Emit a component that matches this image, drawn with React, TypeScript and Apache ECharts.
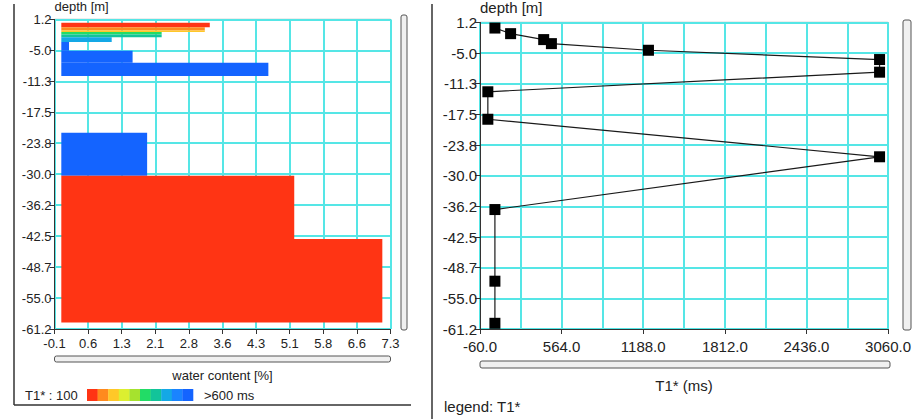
import React, { useEffect, useRef } from "react";
import * as echarts from "echarts";

// ---- axes ----
const Y_MIN = -61.2;
const Y_MAX = 1.2;
const Y_STEP = 6.24;

const WC_MIN = -0.1;
const WC_MAX = 7.3;
const WC_STEP = 0.74;
const WC_TICK_LABELS = ["-0.1", "0.6", "1.3", "2.1", "2.8", "3.6", "4.3", "5.1", "5.8", "6.6", "7.3"];

const T1_MIN = -60;
const T1_MAX = 3060;
const T1_STEP = 624;

// ---- colour classes of T1* (100 ms ... >600 ms) ----
const T1_CLASS_COLORS = [
  "#ff3414", "#ff8a1e", "#ffc828", "#dcef30", "#a6e22e",
  "#22dc66", "#12c49a", "#14a8e6", "#1a84ff", "#1464ff",
];

// ---- left panel: water content layers ----
const LAYER_BASE = 0.05;
const LAYER_TOP = [0.54, -0.39, -1.05, -1.33, -1.85, -2.38, -3.38, -5.11, -7.56, -21.64, -30.33, -43.07];
const LAYER_BOTTOM = [-0.39, -1.05, -1.33, -1.85, -2.38, -3.38, -5.11, -7.56, -10.21, -30.33, -43.07, -59.88];
const LAYER_WATER = [3.32, 3.21, 3.21, 2.26, 2.26, 1.16, 0.22, 1.62, 4.61, 1.94, 5.18, 7.12];
const LAYER_CLASS = [0, 1, 2, 5, 6, 7, 9, 9, 9, 9, 0, 0];

// ---- right panel: T1* vs depth ----
const T1_DEPTH = [0.05, -1.09, -2.3, -3.12, -4.47, -6.36, -8.93, -12.92, -18.51, -26.15, -36.89, -51.47, -60.04];
const T1_VALUE = [54, 174, 427, 486, 1228, 2995, 2995, 0, 0, 2995, 54, 54, 54];

const FONT = "Liberation Sans, Arial, sans-serif";
const CYAN = "#55e6e6";
const TXT = "#222";

function buildOption(): any {
  const yAxisCommon = (gridIndex: number, fs: number, gap: number) => ({
    type: "value",
    gridIndex,
    min: 0,
    max: Y_MAX - Y_MIN,
    interval: Y_STEP,
    name: "depth [m]",
    nameLocation: "end",
    nameGap: gap,
    nameTextStyle: { align: "left", verticalAlign: "middle", fontSize: fs, color: TXT, fontFamily: FONT },
    axisLine: { show: true, lineStyle: { color: "#333", width: 1 } },
    axisTick: { show: true, length: 5, lineStyle: { color: "#333" } },
    axisLabel: {
      fontSize: fs,
      color: TXT,
      fontFamily: FONT,
      margin: 3,
      formatter: (v: number) => (v + Y_MIN).toFixed(1),
    },
    splitLine: { show: true, lineStyle: { color: CYAN, width: 2 } },
  });

  const layerData = LAYER_TOP.map((t, i) => [
    LAYER_BASE - WC_MIN,
    LAYER_WATER[i] - WC_MIN,
    t - Y_MIN,
    LAYER_BOTTOM[i] - Y_MIN,
    LAYER_CLASS[i],
  ]);

  const lineData = T1_VALUE.map((v, i) => [v - T1_MIN, T1_DEPTH[i] - Y_MIN]);

  const cellW = 106 / T1_CLASS_COLORS.length;

  return {
    animation: false,
    backgroundColor: "#fff",
    grid: [
      { left: 54.5, top: 16, width: 336, height: 313, show: true, borderColor: "#555", borderWidth: 1, backgroundColor: "transparent" },
      { left: 480, top: 21, width: 410, height: 308, show: true, borderColor: "#555", borderWidth: 1, backgroundColor: "transparent" },
    ],
    xAxis: [
      {
        type: "value",
        gridIndex: 0,
        min: 0,
        max: WC_MAX - WC_MIN,
        interval: WC_STEP,
        name: "water content [%]",
        nameLocation: "middle",
        nameGap: 40,
        nameTextStyle: { fontSize: 13, color: TXT, fontFamily: FONT },
        axisLine: { show: true, lineStyle: { color: "#333" } },
        axisTick: { show: true, length: 5, lineStyle: { color: "#333" } },
        axisLabel: {
          fontSize: 13,
          color: TXT,
          fontFamily: FONT,
          margin: 8,
          formatter: (v: number) => WC_TICK_LABELS[Math.round(v / WC_STEP)] ?? "",
        },
        splitLine: { show: true, lineStyle: { color: CYAN, width: 2 } },
      },
      {
        type: "value",
        gridIndex: 1,
        min: 0,
        max: T1_MAX - T1_MIN,
        interval: T1_STEP,
        name: "T1* (ms)",
        nameLocation: "middle",
        nameGap: 49,
        nameTextStyle: { fontSize: 15, color: TXT, fontFamily: FONT },
        axisLine: { show: true, lineStyle: { color: "#333" } },
        axisTick: { show: true, length: 5, lineStyle: { color: "#333" } },
        minorTick: { show: false, splitNumber: 2 },
        minorSplitLine: { show: true, lineStyle: { color: CYAN, width: 2 } },
        axisLabel: {
          fontSize: 15,
          color: TXT,
          fontFamily: FONT,
          margin: 10,
          formatter: (v: number) => (v + T1_MIN).toFixed(1),
        },
        splitLine: { show: true, lineStyle: { color: CYAN, width: 2 } },
      },
    ],
    yAxis: [yAxisCommon(0, 13, 11), yAxisCommon(1, 15, 8)],
    series: [
      {
        type: "custom",
        xAxisIndex: 0,
        yAxisIndex: 0,
        encode: { x: [0, 1], y: [2, 3] },
        data: layerData,
        clip: true,
        renderItem: (_p: any, api: any) => {
          const a = api.coord([api.value(0), api.value(2)]);
          const b = api.coord([api.value(1), api.value(3)]);
          return {
            type: "rect",
            shape: { x: a[0], y: a[1], width: b[0] - a[0], height: b[1] - a[1] },
            style: { fill: T1_CLASS_COLORS[api.value(4)], stroke: null },
          };
        },
        z: 3,
      },
      {
        type: "line",
        xAxisIndex: 1,
        yAxisIndex: 1,
        data: lineData,
        symbol: "rect",
        symbolSize: 11,
        showSymbol: true,
        lineStyle: { color: "#1a1a1a", width: 1.2 },
        itemStyle: { color: "#000" },
        clip: false,
        z: 3,
      },
    ],
    graphic: [
      // left panel frame
      { type: "line", shape: { x1: 14, y1: 4, x2: 14, y2: 405 }, style: { stroke: "#333", lineWidth: 1.5 } },
      { type: "line", shape: { x1: 14, y1: 405, x2: 411, y2: 405 }, style: { stroke: "#333", lineWidth: 1.5 } },
      // right panel frame
      { type: "line", shape: { x1: 432, y1: 4, x2: 432, y2: 419 }, style: { stroke: "#333", lineWidth: 1.5 } },
      // scrollbars
      { type: "rect", shape: { x: 401, y: 15, width: 6, height: 315, r: 2 }, style: { fill: "#f0f0f0", stroke: "#555", lineWidth: 1 } },
      { type: "rect", shape: { x: 54.5, y: 356, width: 336, height: 6, r: 2 }, style: { fill: "#f0f0f0", stroke: "#555", lineWidth: 1 } },
      { type: "rect", shape: { x: 903, y: 20, width: 8, height: 310, r: 2 }, style: { fill: "#f0f0f0", stroke: "#555", lineWidth: 1 } },
      { type: "rect", shape: { x: 480, y: 361, width: 410, height: 7, r: 2 }, style: { fill: "#f0f0f0", stroke: "#555", lineWidth: 1 } },
      // colour legend
      { type: "text", left: 25, top: 389, style: { text: "T1* : 100", fontSize: 13, fill: TXT, fontFamily: FONT } },
      ...T1_CLASS_COLORS.map((c, i) => ({
        type: "rect",
        shape: { x: 87 + i * cellW, y: 389, width: cellW + 0.3, height: 12 },
        style: { fill: c },
      })),
      { type: "text", left: 204, top: 389, style: { text: ">600 ms", fontSize: 13, fill: TXT, fontFamily: FONT } },
      { type: "text", left: 444, top: 399, style: { text: "legend: T1*", fontSize: 15, fill: TXT, fontFamily: FONT } },
    ],
  };
}

export default function App() {
  const ref = useRef<HTMLDivElement>(null);
  useEffect(() => {
    if (!ref.current) return;
    const chart = echarts.init(ref.current, undefined, { renderer: "svg" });
    chart.setOption(buildOption());
    return () => chart.dispose();
  }, []);
  return (
    <div
      ref={ref}
      style={{ position: "fixed", left: 0, top: 0, width: 914, height: 419, background: "#fff" }}
    />
  );
}
